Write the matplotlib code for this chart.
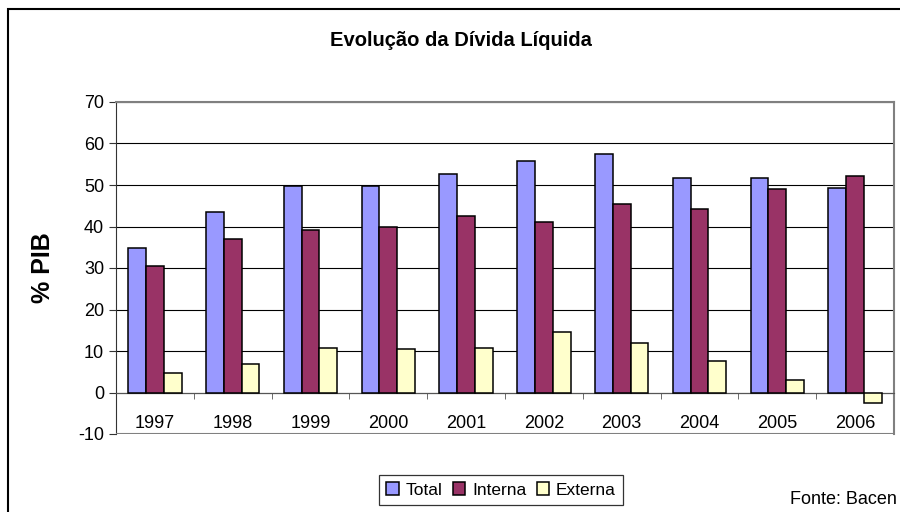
import matplotlib
matplotlib.use('Agg')
import matplotlib.pyplot as plt
import numpy as np
from matplotlib.patches import Rectangle

plt.rcParams['font.family'] = ['Liberation Sans', 'DejaVu Sans']
plt.rcParams['axes.unicode_minus'] = False

# data (% do PIB)
anos = ['1997', '1998', '1999', '2000', '2001', '2002', '2003', '2004', '2005', '2006']
total = [34.8, 43.4, 49.8, 49.8, 52.7, 55.7, 57.4, 51.8, 51.8, 49.3]
interna = [30.6, 37.0, 39.1, 40.0, 42.6, 41.2, 45.4, 44.2, 49.0, 52.2]
externa = [4.7, 6.8, 10.7, 10.4, 10.7, 14.6, 12.0, 7.7, 3.0, -2.5]

series = [('Total', total, '#9999FF'),
          ('Interna', interna, '#993366'),
          ('Externa', externa, '#FFFFCC')]


def main():
    fig = plt.figure(figsize=(9, 5.12), dpi=100)

    # outer chart frame
    fig.patches.append(Rectangle((8 / 900, -0.1), 1.2, 1 - 9 / 512 + 0.1,
                                 transform=fig.transFigure, fill=False,
                                 edgecolor='black', linewidth=1.5))

    ax = fig.add_axes([116 / 900, 78 / 512, (894 - 116) / 900, (434 - 102) / 512])

    x = np.arange(len(anos))
    w = 0.228
    for i, (nome, vals, cor) in enumerate(series):
        ax.bar(x + (i - 1) * w, vals, w, color=cor, edgecolor='black',
               linewidth=1.1, label=nome, zorder=3)

    ax.set_xlim(-0.5, len(anos) - 0.5)
    ax.set_ylim(-10, 70)
    ax.set_yticks(np.arange(-10, 71, 10))
    ax.yaxis.grid(True, color='black', linewidth=0.8, zorder=0)

    # category axis crossing at zero
    ax.spines['bottom'].set_position(('data', 0))
    ax.spines['bottom'].set_color('#555555')
    ax.set_xticks(x)
    ax.set_xticklabels(anos)
    ax.set_xticks(np.arange(len(anos) + 1) - 0.5, minor=True)
    ax.tick_params(axis='x', which='major', length=0, pad=16, labelsize=13)
    ax.tick_params(axis='x', which='minor', length=4, direction='out', color='#555555')
    ax.tick_params(axis='y', length=5, direction='out', labelsize=13, color='#333333')

    ax.spines['left'].set_color('#333333')
    for s in ('top', 'right'):
        ax.spines[s].set_color('#808080')
        ax.spines[s].set_linewidth(1.5)
    # bottom border of plot area at -10
    ax.axhline(-10, color='#808080', linewidth=1.5, zorder=4)

    ax.set_ylabel('% PIB', fontsize=18, fontweight='bold')
    ax.yaxis.set_label_coords((55 - 116) / 778, 0.5)

    fig.text(461 / 900, 1 - 40 / 512, 'Evolução da Dívida Líquida', ha='center',
             va='center', fontsize=14.5, fontweight='bold')

    leg = ax.legend(loc='center', bbox_to_anchor=(501 / 900, 1 - 490 / 512),
                    bbox_transform=fig.transFigure, ncol=3, fontsize=12.5,
                    frameon=True, fancybox=False, edgecolor='black',
                    handlelength=0.7, handleheight=0.7, handletextpad=0.4,
                    columnspacing=0.6, borderpad=0.4)
    leg.get_frame().set_linewidth(0.9)

    fig.text(897 / 900, 1 - 500 / 512, 'Fonte: Bacen', ha='right', va='center',
             fontsize=13)

    fig.savefig('out.png', dpi=100)


if __name__ == '__main__':
    main()
